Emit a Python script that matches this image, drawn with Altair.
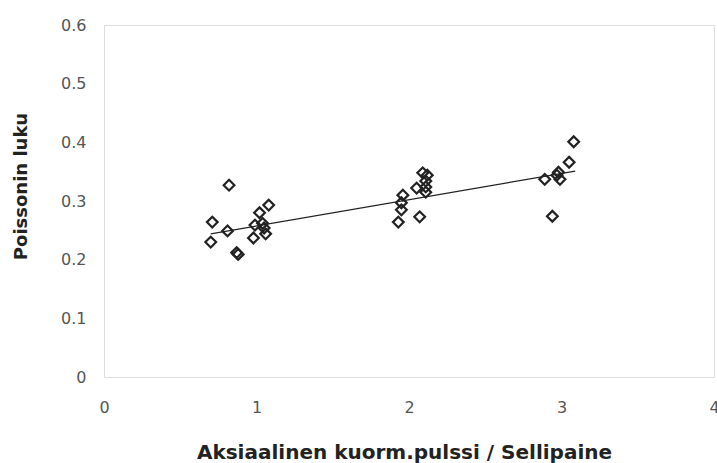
import altair as alt
import pandas as pd

# Scatter data
x_vals = [0.70, 0.71, 0.82, 0.81, 0.87, 0.88, 0.98, 0.99, 1.02, 1.04, 1.05, 1.06, 1.08,
          1.93, 1.95, 1.95, 1.96, 2.05, 2.07, 2.09, 2.11, 2.11, 2.11, 2.12,
          2.89, 2.94, 2.97, 2.98, 2.99, 3.05, 3.08]
y_vals = [0.230, 0.264, 0.327, 0.249, 0.212, 0.209, 0.237, 0.259, 0.280, 0.262, 0.254, 0.244, 0.293,
          0.264, 0.285, 0.297, 0.310, 0.322, 0.273, 0.348, 0.315, 0.324, 0.334, 0.344,
          0.337, 0.274, 0.344, 0.349, 0.337, 0.366, 0.401]

# Trend line endpoints
line_x = [0.70, 3.09]
line_y = [0.244, 0.351]

x_ticks = [0, 1, 2, 3, 4]
y_ticks = [0, 0.1, 0.2, 0.3, 0.4, 0.5, 0.6]

pts = pd.DataFrame({"x": x_vals, "y": y_vals})
ln = pd.DataFrame({"x": line_x, "y": line_y})

FONT = "DejaVu Sans"

xscale = alt.Scale(domain=[0, 4], nice=False, zero=False)
yscale = alt.Scale(domain=[0, 0.6], nice=False, zero=False)

xaxis = alt.Axis(values=x_ticks, title="Aksiaalinen kuorm.pulssi / Sellipaine", format="d",
                 grid=False, ticks=False, domain=False, labelPadding=22,
                 labelFontSize=16, labelColor="#555", labelFont=FONT,
                 titleFont=FONT, titleFontSize=20, titleFontWeight="bold", titleColor="#222",
                 titleX=300, titleY=75, titleBaseline="middle", titleAlign="center",
                 labelFlush=False, labelOverlap=False)
yaxis = alt.Axis(values=y_ticks, title="Poissonin luku", format="~g",
                 grid=False, ticks=False, domain=False, labelPadding=18,
                 labelFontSize=16, labelColor="#555", labelFont=FONT,
                 titleFont=FONT, titleFontSize=18, titleFontWeight="bold", titleColor="#222",
                 titleX=-83, titleY=161, titleBaseline="middle", titleAlign="center",
                 titleAngle=270, labelFlush=False, labelOverlap=False)

points = alt.Chart(pts).mark_point(shape="diamond", size=115, filled=False,
                                   stroke="#222", strokeWidth=2.2, opacity=1).encode(
    x=alt.X("x:Q", scale=xscale, axis=xaxis),
    y=alt.Y("y:Q", scale=yscale, axis=yaxis),
)

line = alt.Chart(ln).mark_line(color="#222", strokeWidth=1.3).encode(
    x=alt.X("x:Q", scale=xscale),
    y=alt.Y("y:Q", scale=yscale),
)

chart = alt.layer(line, points).properties(
    width=610, height=352,
    autosize=alt.AutoSizeParams(type="none"),
    padding={"left": 104, "top": 25, "right": 3, "bottom": 86},
).configure_view(stroke="#555", strokeWidth=1.2).configure(background="white")

chart.save("out.html", embed_options={"renderer": "svg", "actions": False})
